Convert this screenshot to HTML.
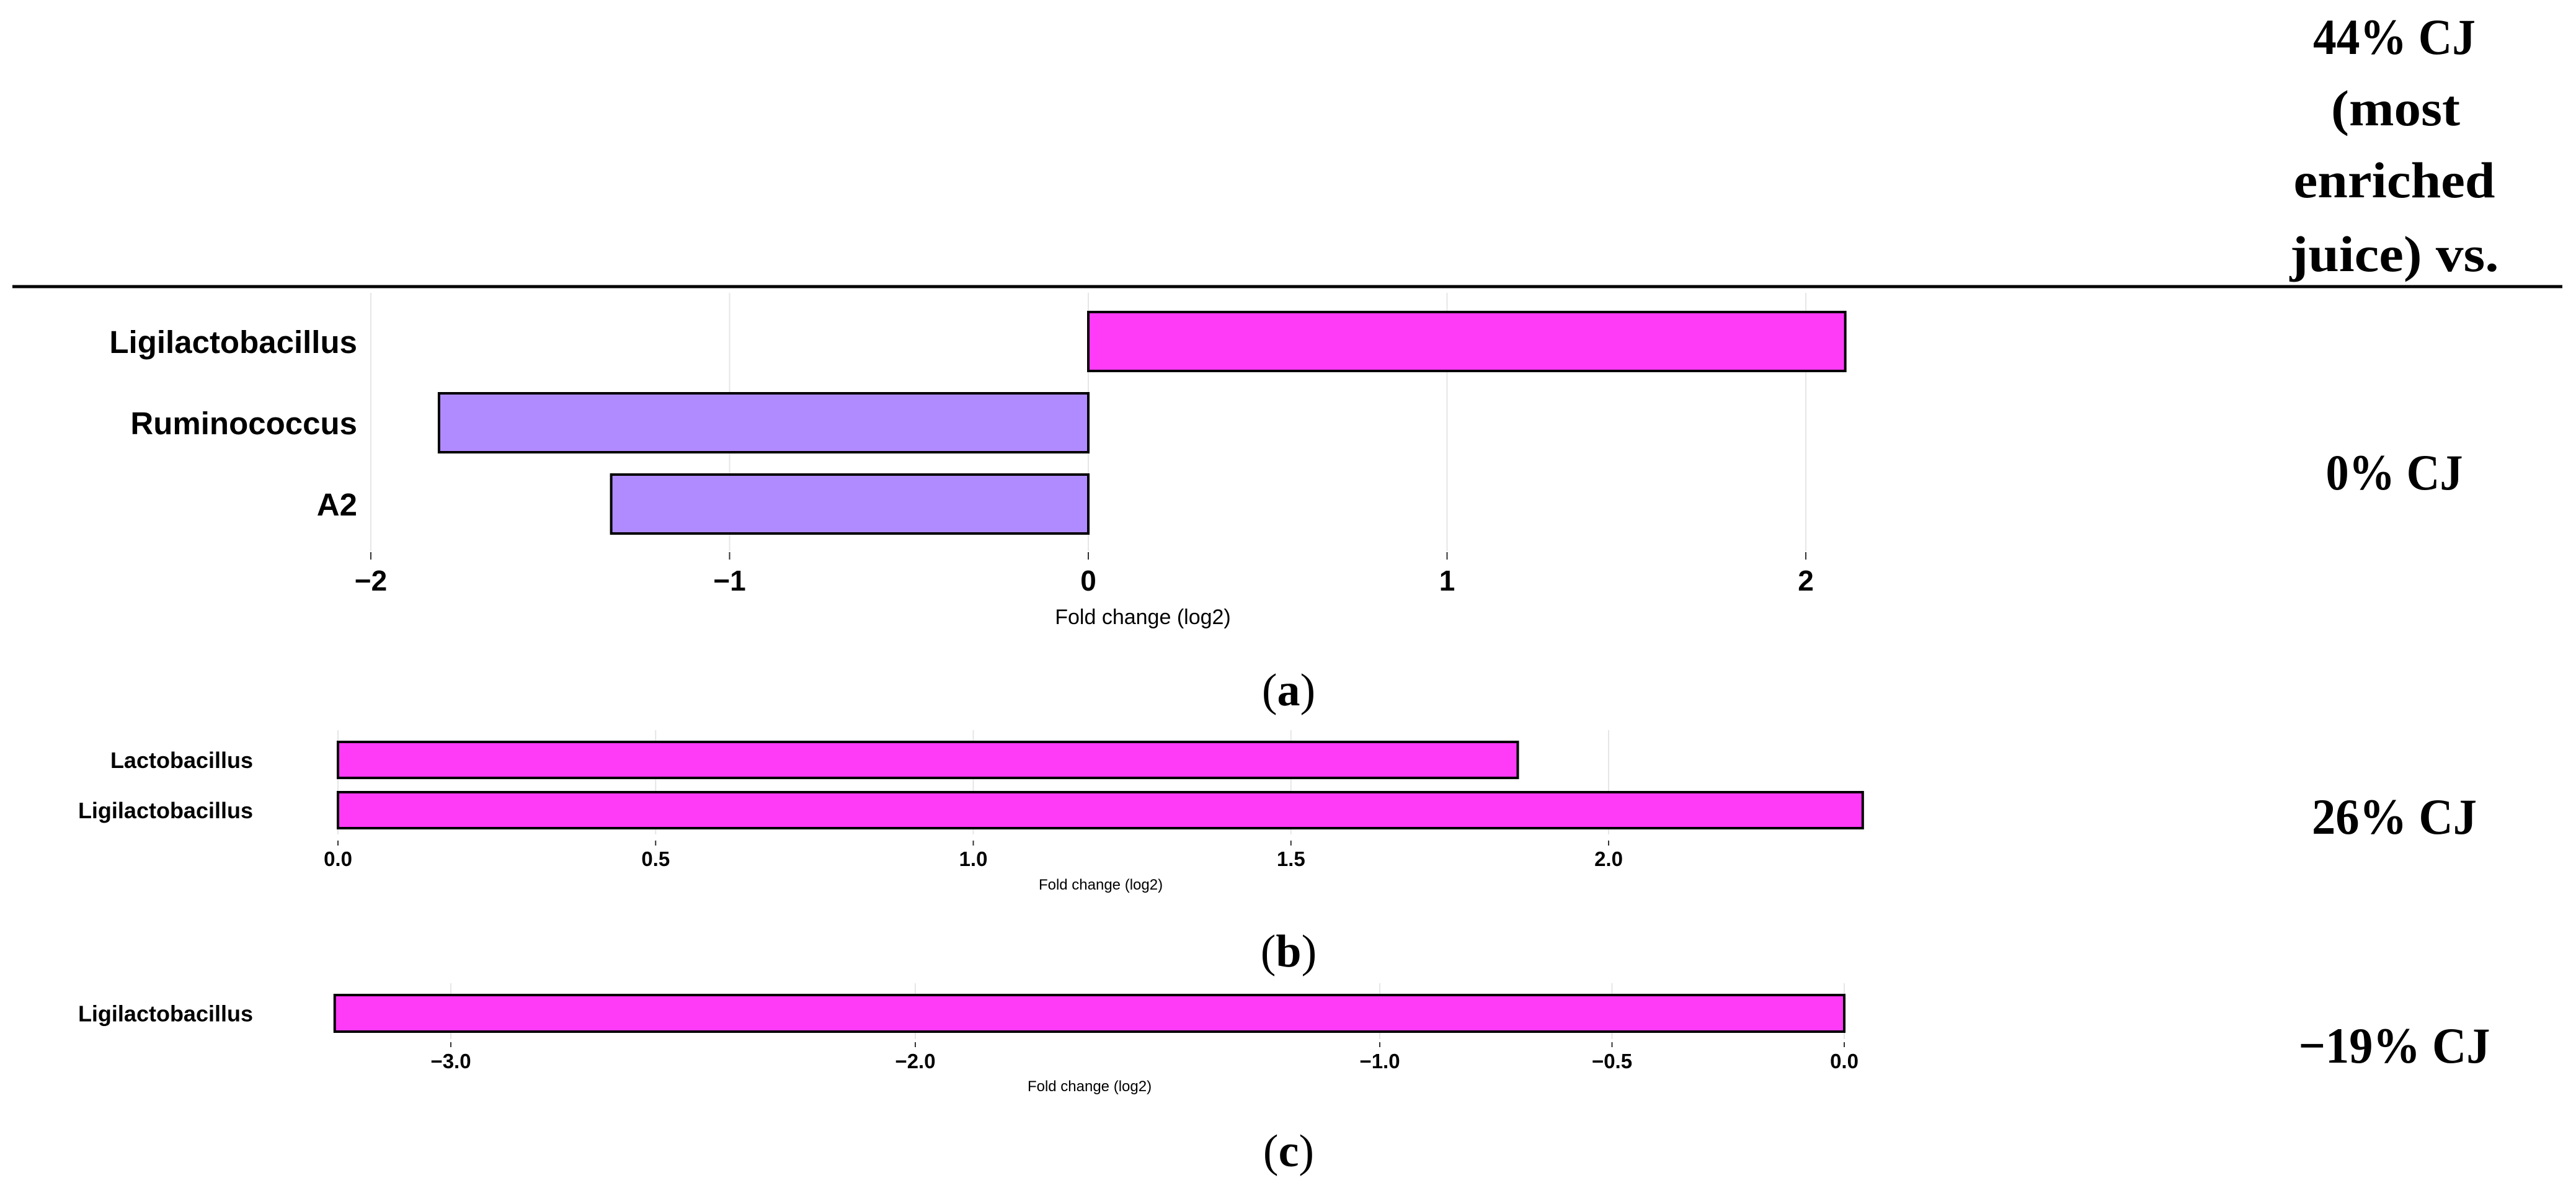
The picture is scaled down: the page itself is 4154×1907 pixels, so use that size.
<!DOCTYPE html>
<html><head><meta charset="utf-8"><style>
html,body{margin:0;padding:0;background:#fff;}
svg{display:block;}
text{font-family:"Liberation Sans",sans-serif;}
.serif{font-family:"Liberation Serif",serif;font-weight:bold;}
</style></head><body>
<svg id="fig" width="4154" height="1907" viewBox="0 0 4154 1907" xmlns="http://www.w3.org/2000/svg">
<rect width="4154" height="1907" fill="#fff"/>
<line x1="20" y1="462" x2="4132" y2="462" stroke="#000" stroke-width="5"/>
<g class="serif" font-size="82" text-anchor="middle">
<text class="serif" x="3861" y="87" textLength="262" lengthAdjust="spacingAndGlyphs">44% CJ</text>
<text class="serif" x="3863" y="202" textLength="208" lengthAdjust="spacingAndGlyphs">(most</text>
<text class="serif" x="3861" y="318" textLength="325" lengthAdjust="spacingAndGlyphs">enriched</text>
<text class="serif" x="3861" y="437" textLength="337" lengthAdjust="spacingAndGlyphs">juice) vs.</text>
</g>
<text class="serif" x="3861" y="789" font-size="82" text-anchor="middle" textLength="221" lengthAdjust="spacingAndGlyphs">0% CJ</text>
<text class="serif" x="3861" y="1344" font-size="82" text-anchor="middle" textLength="266" lengthAdjust="spacingAndGlyphs">26% CJ</text>
<text class="serif" x="3861" y="1713" font-size="82" text-anchor="middle" textLength="309" lengthAdjust="spacingAndGlyphs">−19% CJ</text>
<text x="2078" y="1137" font-size="74" text-anchor="middle" style="font-family:'Liberation Serif',serif">(<tspan font-weight="bold">a</tspan>)</text>
<text x="2078" y="1558" font-size="74" text-anchor="middle" style="font-family:'Liberation Serif',serif">(<tspan font-weight="bold">b</tspan>)</text>
<text x="2078" y="1880" font-size="74" text-anchor="middle" style="font-family:'Liberation Serif',serif">(<tspan font-weight="bold">c</tspan>)</text>
<g id="pa"></g>
<g id="pb"></g>
<g id="pc"></g>
</svg>
<script>
// Panel a data
const catsA = ["Ligilactobacillus", "Ruminococcus", "A2"];
const valsA = [2.11, -1.81, -1.33];
const ticksA = [-2, -1, 0, 1, 2];
const tickLabelsA = ["−2", "−1", "0", "1", "2"];
// Panel b data
const catsB = ["Lactobacillus", "Ligilactobacillus"];
const valsB = [1.857, 2.40];
const ticksB = [0, 0.5, 1.0, 1.5, 2.0];
const tickLabelsB = ["0.0", "0.5", "1.0", "1.5", "2.0"];
// Panel c data
const catsC = ["Ligilactobacillus"];
const valsC = [-3.25];
const ticksC = [-3, -2, -1, -0.5, 0];
const tickLabelsC = ["−3.0", "−2.0", "−1.0", "−0.5", "0.0"];

const NS = "http://www.w3.org/2000/svg";
function mk(parent, tag, attrs, txt) {
  const e = document.createElementNS(NS, tag);
  for (const k in attrs) e.setAttribute(k, attrs[k]);
  if (txt !== undefined) e.textContent = txt;
  parent.appendChild(e);
  return e;
}
function drawPanel(g, cfg, cats, vals, ticks, labels) {
  const xs = v => cfg.x0 + v * cfg.unit;
  ticks.forEach((t, i) => {
    const gl = mk(g, "line", {x1: xs(t), x2: xs(t), y1: cfg.gTop, y2: cfg.gBot, stroke: "#e6e6e6", "stroke-width": 2});
    
    
    const tk = mk(g, "line", {x1: xs(t), x2: xs(t), y1: cfg.tickY, y2: cfg.tickY + cfg.tickLen, stroke: "#333", "stroke-width": 2});
    
    
    const tl = mk(g, "text", {x: xs(t), y: cfg.tlY, "font-size": cfg.tlSize, "font-weight": "bold", "text-anchor": "middle"}, labels[i]);
    
    
  });
  cats.forEach((c, i) => {
    const top = cfg.barTop + i * cfg.step;
    const v = vals[i];
    const x1 = Math.min(xs(0), xs(v)), x2 = Math.max(xs(0), xs(v));
    const b = mk(g, "rect", {x: x1, y: top, width: x2 - x1, height: cfg.barH, fill: v >= 0 || cfg.allMagenta ? "#ff3bf7" : "#b08bff", stroke: "#000", "stroke-width": 4});
    
    
    const l = mk(g, "text", {x: cfg.labelX, y: top + cfg.barH / 2 + cfg.labSize * 0.36, "font-size": cfg.labSize, "font-weight": "bold", "text-anchor": "end"}, c);
    
    
  });
  const t = mk(g, "text", {x: cfg.titleX, y: cfg.titleY, "font-size": cfg.titleSize, "text-anchor": "middle"}, "Fold change (log2)");
  
  
}
drawPanel(document.getElementById("pa"),
  {x0: 1755, unit: 578.5, gTop: 472, gBot: 888, tickY: 890, tickLen: 12, tlY: 952, tlSize: 46,
   barTop: 503, step: 131, barH: 95, labelX: 576, labSize: 51, titleX: 1843, titleY: 1006, titleSize: 34}, catsA, valsA, ticksA, tickLabelsA);
drawPanel(document.getElementById("pb"),
  {x0: 545, unit: 1024.5, gTop: 1177, gBot: 1345, tickY: 1355, tickLen: 8, tlY: 1396, tlSize: 33,
   barTop: 1196, step: 81, barH: 58, labelX: 408, labSize: 36, titleX: 1775, titleY: 1434, titleSize: 24, allMagenta: true}, catsB, valsB, ticksB, tickLabelsB);
drawPanel(document.getElementById("pc"),
  {x0: 2974, unit: 749, gTop: 1585, gBot: 1675, tickY: 1680, tickLen: 8, tlY: 1722, tlSize: 33,
   barTop: 1604, step: 0, barH: 59, labelX: 408, labSize: 36, titleX: 1757, titleY: 1759, titleSize: 24, allMagenta: true}, catsC, valsC, ticksC, tickLabelsC);
</script>
</body></html>
